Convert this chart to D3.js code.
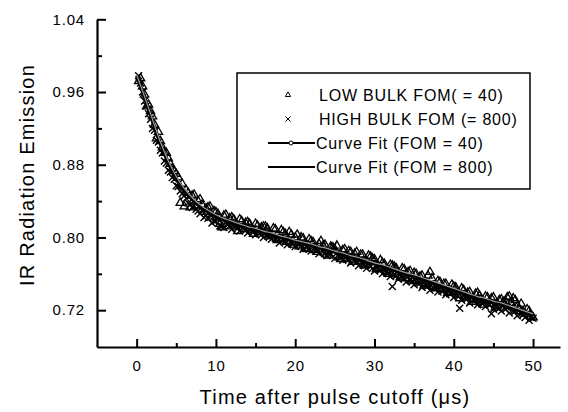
<!DOCTYPE html>
<html>
<head>
<meta charset="utf-8">
<script src="https://cdn.jsdelivr.net/npm/d3@7"></script>
<style>
  body { margin: 0; background: #fff; }
  text { font-family: "Liberation Sans", Arial, Helvetica, sans-serif; fill: #000; }
</style>
</head>
<body>
<div id="chart"></div>
<script>
// tick values
var xTicks = [0, 10, 20, 30, 40, 50];
var xMinor = [5, 15, 25, 35, 45];
var yTicks = [0.72, 0.80, 0.88, 0.96, 1.04];
var yMinor = [0.76, 0.84, 0.92, 1.00];

// LOW BULK FOM (= 40), triangles
var lowT = [0.5,1,1.5,2,2.5,3,3.5,4,4.5,5,5.5,6,6.5,7,7.5,8,8.5,9,9.5,10,
  10.5,11,11.5,12,12.5,13,13.5,14,14.5,15,15.5,16,16.5,17,17.5,18,18.5,19,19.5,20,
  20.5,21,21.5,22,22.5,23,23.5,24,24.5,25,25.5,26,26.5,27,27.5,28,28.5,29,29.5,30,
  30.5,31,31.5,32,32.5,33,33.5,34,34.5,35,35.5,36,36.5,37,37.5,38,38.5,39,39.5,40,
  40.5,41,41.5,42,42.5,43,43.5,44,44.5,45,45.5,46,46.5,47,47.5,48,48.5,49,49.5,50];
var lowV = [0.975,0.957,0.946,0.933,0.909,0.906,0.893,0.887,0.876,0.870,
  0.838,0.834,0.849,0.846,0.834,0.842,0.828,0.833,0.822,0.828,
  0.815,0.824,0.812,0.822,0.814,0.820,0.809,0.817,0.808,0.815,
  0.806,0.812,0.810,0.801,0.809,0.798,0.806,0.795,0.803,0.800,
  0.790,0.799,0.787,0.796,0.786,0.793,0.791,0.781,0.790,0.787,
  0.778,0.786,0.776,0.784,0.782,0.774,0.781,0.770,0.779,0.776,
  0.766,0.772,0.763,0.770,0.768,0.759,0.766,0.755,0.763,0.761,
  0.752,0.758,0.749,0.762,0.747,0.752,0.743,0.749,0.740,0.746,
  0.737,0.744,0.735,0.740,0.732,0.739,0.729,0.735,0.727,0.734,
  0.725,0.732,0.730,0.735,0.733,0.724,0.727,0.716,0.719,0.712];
var lowT2 = [0.25,0.75,1.25,1.75,2.25,2.75,3.25,3.75,4.25,4.75,5.25,5.75,6.25,6.75,7.25,7.75,8.25,8.75,9.25,9.75,
  10.25,10.75,11.25,11.75,12.25,12.75,13.25,13.75,14.25,14.75,15.25,15.75,16.25,16.75,17.25,17.75,18.25,18.75,19.25,19.75,
  20.25,20.75,21.25,21.75,22.25,22.75,23.25,23.75,24.25,24.75,25.25,25.75,26.25,26.75,27.25,27.75,28.25,28.75,29.25,29.75,
  30.25,30.75,31.25,31.75,32.25,32.75,33.25,33.75,34.25,34.75,35.25,35.75,36.25,36.75,37.25,37.75,38.25,38.75,39.25,39.75,
  40.25,40.75,41.25,41.75,42.25,42.75,43.25,43.75,44.25,44.75,45.25,45.75,46.25,46.75,47.25,47.75,48.25,48.75,49.25,49.75];
var lowV2 = [0.972,0.966,0.944,0.939,0.924,0.916,0.899,0.893,0.881,0.873,
  0.866,0.859,0.852,0.833,0.847,0.840,0.836,0.832,0.834,0.829,
  0.826,0.811,0.825,0.821,0.820,0.807,0.818,0.816,0.815,0.804,
  0.813,0.811,0.812,0.803,0.810,0.797,0.808,0.804,0.806,0.792,
  0.803,0.800,0.788,0.798,0.795,0.784,0.796,0.792,0.780,0.789,
  0.791,0.776,0.787,0.785,0.773,0.784,0.781,0.769,0.780,0.777,
  0.765,0.775,0.771,0.760,0.769,0.766,0.756,0.765,0.762,0.752,
  0.760,0.757,0.747,0.758,0.755,0.744,0.751,0.749,0.739,0.748,
  0.745,0.733,0.742,0.739,0.729,0.738,0.736,0.726,0.734,0.733,
  0.723,0.731,0.729,0.734,0.728,0.731,0.722,0.718,0.721,0.714];

// HIGH BULK FOM (= 800), crosses
var highT = [0.25,0.75,1.25,1.75,2.25,2.75,3.25,3.75,4.25,4.75,5.25,5.75,6.25,6.75,7.25,7.75,8.25,8.75,9.25,9.75,
  10.25,10.75,11.25,11.75,12.25,12.75,13.25,13.75,14.25,14.75,15.25,15.75,16.25,16.75,17.25,17.75,18.25,18.75,19.25,19.75,
  20.25,20.75,21.25,21.75,22.25,22.75,23.25,23.75,24.25,24.75,25.25,25.75,26.25,26.75,27.25,27.75,28.25,28.75,29.25,29.75,
  30.25,30.75,31.25,31.75,32.25,32.75,33.25,33.75,34.25,34.75,35.25,35.75,36.25,36.75,37.25,37.75,38.25,38.75,39.25,39.75,
  40.25,40.75,41.25,41.75,42.25,42.75,43.25,43.75,44.25,44.75,45.25,45.75,46.25,46.75,47.25,47.75,48.25,48.75,49.25,49.75];
var highV = [0.978,0.960,0.945,0.930,0.918,0.905,0.893,0.882,0.872,0.864,
  0.856,0.848,0.843,0.836,0.835,0.829,0.830,0.824,0.825,0.818,
  0.820,0.812,0.817,0.813,0.815,0.810,0.813,0.808,0.810,0.806,
  0.808,0.803,0.805,0.801,0.803,0.799,0.800,0.796,0.798,0.793,
  0.795,0.791,0.793,0.788,0.790,0.786,0.788,0.783,0.785,0.790,
  0.783,0.778,0.780,0.776,0.778,0.773,0.775,0.770,0.772,0.766,
  0.768,0.764,0.766,0.761,0.746,0.758,0.760,0.755,0.757,0.752,
  0.755,0.750,0.752,0.747,0.749,0.745,0.746,0.742,0.743,0.739,
  0.740,0.722,0.737,0.733,0.735,0.731,0.732,0.728,0.730,0.716,
  0.728,0.722,0.726,0.723,0.724,0.719,0.720,0.715,0.717,0.712];
var highT2 = [0.5,1,1.5,2,2.5,3,3.5,4,4.5,5,5.5,6,6.5,7,7.5,8,8.5,9,9.5,10,
  10.5,11,11.5,12,12.5,13,13.5,14,14.5,15,15.5,16,16.5,17,17.5,18,18.5,19,19.5,20,
  20.5,21,21.5,22,22.5,23,23.5,24,24.5,25,25.5,26,26.5,27,27.5,28,28.5,29,29.5,30,
  30.5,31,31.5,32,32.5,33,33.5,34,34.5,35,35.5,36,36.5,37,37.5,38,38.5,39,39.5,40,
  40.5,41,41.5,42,42.5,43,43.5,44,44.5,45,45.5,46,46.5,47,47.5,48,48.5,49,49.5,50];
var highV2 = [0.970,0.950,0.936,0.920,0.907,0.896,0.884,0.874,0.866,0.857,
  0.851,0.846,0.838,0.833,0.831,0.826,0.822,0.821,0.816,0.818,
  0.813,0.811,0.814,0.809,0.811,0.807,0.809,0.805,0.807,0.803,
  0.804,0.800,0.802,0.798,0.799,0.794,0.797,0.792,0.794,0.790,
  0.792,0.787,0.789,0.785,0.787,0.782,0.784,0.780,0.782,0.777,
  0.779,0.775,0.776,0.772,0.774,0.769,0.771,0.766,0.768,0.763,
  0.765,0.760,0.762,0.757,0.759,0.754,0.756,0.751,0.753,0.748,
  0.750,0.745,0.747,0.742,0.744,0.740,0.741,0.737,0.738,0.734,
  0.736,0.731,0.733,0.728,0.731,0.726,0.728,0.724,0.726,0.721,
  0.723,0.719,0.721,0.717,0.719,0.714,0.716,0.712,0.709,0.711];

// curve fits
var fitT = [0,1,2,3,4,5,6,7,8,9,10,11,12,13,14,15,16,17,18,19,20,21,22,23,24,25,
  26,27,28,29,30,31,32,33,34,35,36,37,38,39,40,41,42,43,44,45,46,47,48,49,50];
var fit800 = [0.978,0.954,0.928,0.903,0.882,0.865,0.852,0.842,0.834,0.828,0.823,
  0.819,0.816,0.813,0.811,0.808,0.806,0.803,0.801,0.798,0.796,0.794,0.791,0.789,0.786,0.784,
  0.781,0.779,0.776,0.773,0.771,0.768,0.765,0.762,0.760,0.757,0.754,0.751,0.748,0.745,0.742,
  0.739,0.736,0.733,0.731,0.728,0.726,0.723,0.721,0.718,0.715];
var fit40 = [0.979,0.955,0.930,0.905,0.884,0.867,0.854,0.844,0.836,0.830,0.825,
  0.821,0.818,0.815,0.812,0.810,0.807,0.805,0.802,0.800,0.797,0.795,0.793,0.790,0.788,0.785,
  0.783,0.780,0.778,0.775,0.772,0.770,0.767,0.764,0.761,0.759,0.756,0.753,0.750,0.747,0.744,
  0.741,0.738,0.735,0.733,0.730,0.728,0.725,0.722,0.719,0.716];

var legendLabels = ["LOW BULK FOM( = 40)", "HIGH BULK FOM (= 800)",
                    "Curve Fit (FOM = 40)", "Curve Fit (FOM = 800)"];

var W = 568, H = 412;
var svg = d3.select("#chart").append("svg")
    .attr("width", W).attr("height", H);

// scales
var x = d3.scaleLinear().domain([-5, 53.4]).range([97, 560]);
var y = d3.scaleLinear().domain([0.6795, 1.04]).range([347, 19.3]);

// axes (ticks point inward)
svg.append("g")
    .attr("transform", "translate(0," + y.range()[0] + ")")
    .call(d3.axisBottom(x).tickValues(xTicks).tickSize(-8).tickSizeOuter(0)
      .tickPadding(13).tickFormat(d3.format("d")));
svg.append("g")
    .attr("transform", "translate(0," + y.range()[0] + ")")
    .call(d3.axisBottom(x).tickValues(xMinor).tickSize(-4).tickFormat(""))
    .select(".domain").remove();

svg.append("g")
    .attr("transform", "translate(" + x.range()[0] + ",0)")
    .call(d3.axisLeft(y).tickValues(yTicks).tickSize(-9).tickSizeOuter(0)
      .tickPadding(12).tickFormat(d3.format(".2f")));
svg.append("g")
    .attr("transform", "translate(" + x.range()[0] + ",0)")
    .call(d3.axisLeft(y).tickValues(yMinor).tickSize(-5).tickFormat(""))
    .select(".domain").remove();

svg.selectAll(".domain").attr("stroke", "#000").attr("stroke-width", 2.2);
svg.selectAll(".tick line").attr("stroke", "#000").attr("stroke-width", 2);
svg.selectAll(".tick text")
    .style("font-size", "15px").style("letter-spacing", "0.8px")
    .attr("font-family", null);

// axis titles
svg.append("text")
    .attr("x", 335).attr("y", 404)
    .attr("text-anchor", "middle")
    .style("font-size", "20px").style("letter-spacing", "1.2px")
    .text("Time after pulse cutoff (\u03bcs)");
svg.append("text")
    .attr("transform", "translate(34,175) rotate(-90)")
    .attr("text-anchor", "middle")
    .style("font-size", "20px").style("letter-spacing", "1.2px")
    .text("IR Radiation Emission");

// markers
function pairs(ts, vs) { return ts.map(function(t, i) { return {t: t, v: vs[i]}; }); }
var lowData = pairs(lowT, lowV).concat(pairs(lowT2, lowV2));
var highData = pairs(highT, highV).concat(pairs(highT2, highV2));
var tri = d3.symbol().type(d3.symbolTriangle).size(30);
var cross = "M-3.5,-3.5L3.5,3.5M3.5,-3.5L-3.5,3.5";
function place(d) { return "translate(" + x(d.t) + "," + y(d.v) + ")"; }

svg.append("g").selectAll("path")
    .data(highData).enter().append("path")
    .attr("d", cross).attr("transform", place)
    .attr("fill", "none").attr("stroke", "#000").attr("stroke-width", 1.4);

svg.append("g").selectAll("path")
    .data(lowData).enter().append("path")
    .attr("d", tri).attr("transform", place)
    .attr("fill", "none").attr("stroke", "#000").attr("stroke-width", 1.3);

// fit lines
var line = d3.line().x(function(d) { return x(d[0]); }).y(function(d) { return y(d[1]); })
    .curve(d3.curveMonotoneX);
svg.append("path")
    .attr("d", line(fitT.map(function(t, i) { return [t, fit800[i]]; })))
    .attr("fill", "none").attr("stroke", "#000").attr("stroke-width", 3.5);
svg.append("path")
    .attr("d", line(fitT.map(function(t, i) { return [t, fit40[i]]; })))
    .attr("fill", "none").attr("stroke", "#9a9a9a").attr("stroke-width", 1.2);

// legend
var lg = svg.append("g");
lg.append("rect")
    .attr("x", 237).attr("y", 73).attr("width", 293).attr("height", 116)
    .attr("fill", "#fff").attr("stroke", "#000").attr("stroke-width", 1.5);

var rowY = [95, 119, 143, 167];
legendLabels.forEach(function(lbl, i) {
  var tx = i < 2 ? 319 : 316;
  lg.append("text")
      .attr("x", tx).attr("y", rowY[i]).attr("dy", "0.36em")
      .style("font-size", "16px").style("letter-spacing", "0.8px")
      .text(lbl);
});
lg.append("path")
    .attr("d", d3.symbol().type(d3.symbolTriangle).size(12)())
    .attr("transform", "translate(288," + rowY[0] + ")")
    .attr("fill", "none").attr("stroke", "#000").attr("stroke-width", 1);
lg.append("path")
    .attr("d", "M-2.5,-2.5L2.5,2.5M2.5,-2.5L-2.5,2.5")
    .attr("transform", "translate(288," + rowY[1] + ")")
    .attr("fill", "none").attr("stroke", "#000").attr("stroke-width", 1);
[2, 3].forEach(function(i) {
  lg.append("line")
      .attr("x1", 268).attr("x2", 315).attr("y1", rowY[i]).attr("y2", rowY[i])
      .attr("stroke", "#000").attr("stroke-width", 2);
});
lg.append("circle")
    .attr("cx", 291).attr("cy", rowY[2]).attr("r", 2)
    .attr("fill", "#fff").attr("stroke", "#000").attr("stroke-width", 1);
</script>
</body>
</html>
